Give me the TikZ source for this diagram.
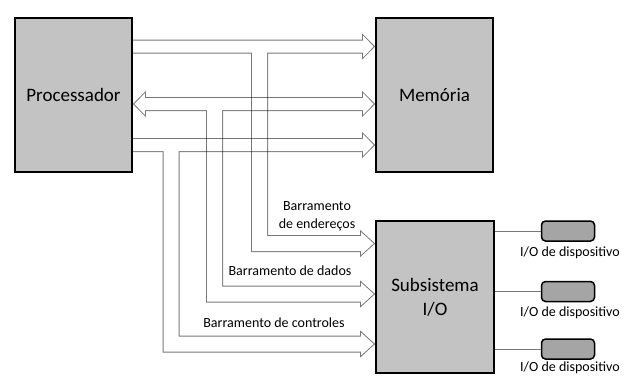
\documentclass[tikz,border=0pt]{standalone}
\usepackage{fontspec}
\setmainfont{Carlito}
\usetikzlibrary{arrows.meta}
\definecolor{cinzabloco}{RGB}{195,195,195}
\definecolor{cinzadisp}{RGB}{165,165,165}
\definecolor{cinzabarra}{RGB}{120,120,120}
\tikzstyle{bloco}=[rectangle,draw,line width=1.8pt,fill=cinzabloco,text=black,
        font=\fontsize{19}{24}\selectfont,align=center]
\tikzstyle{disp}=[rectangle,draw,rounded corners=4pt,line width=1.5pt,fill=cinzadisp,
        minimum width=53pt,minimum height=20pt]
\tikzstyle{rotulo}=[font=\fontsize{14}{18}\selectfont,align=center,inner sep=0pt]
\tikzstyle{ligacao}=[draw=cinzabarra,line width=0.8pt]
\tikzstyle{barra}=[draw=cinzabarra,line width=14pt]
\tikzstyle{barrab}=[draw=cinzabarra,line width=17pt]
\tikzstyle{fundo}=[draw=white,line width=12pt]
\tikzstyle{fundob}=[draw=white,line width=15pt]
\tikzset{
        pontaA/.tip={Triangle[fill=white,line width=0.8pt,length=13pt,width=26pt]},
        pontaB/.tip={Triangle[fill=white,line width=0.8pt,length=15pt,width=27pt]}
}

\begin{document}
\begin{tikzpicture}[x=1pt,y=-1pt]
\path[use as bounding box,fill=white] (0,0) rectangle (629,376);
\node[bloco,minimum width=117pt,minimum height=154pt] (proc) at (73.5,95) {Processador};
\node[bloco,minimum width=117pt,minimum height=154pt] (mem) at (434.5,95) {Memória};
\node[bloco,minimum width=118pt,minimum height=152pt] (io) at (435,297) {Subsistema\\I/O};
\node[disp] (d1) at (568,231) {};
\node[disp] (d2) at (568,291.5) {};
\node[disp] (d3) at (568,349) {};
\node[rotulo] (r1) at (570,253) {I/O de dispositivo};
\node[rotulo] (r2) at (570,313) {I/O de dispositivo};
\node[rotulo] (r3) at (570,368) {I/O de dispositivo};
\node[rotulo] (lend) at (317,216) {Barramento\\de endereços};
\node[rotulo] (ldad) at (290,271) {Barramento de dados};
\node[rotulo] (lctl) at (274,323) {Barramento de controles};
%Junctions
\coordinate (eJ) at (259.5,46.5);
\coordinate (eK) at (259.5,243.5);
\coordinate (dJ) at (214.5,104);
\coordinate (dK) at (214.5,294);
\coordinate (cJ) at (171,145);
\coordinate (cK) at (171,344);
%Drawing buses
\begin{scope}[blend mode=multiply]
\begin{scope}[transparency group]
\draw[barra,-{pontaA}] (proc.east |- eJ) -- (mem.west |- eJ);
\draw[barrab,-{pontaB}] (eJ) -- (eK) -- (io.west |- eK);
\draw[fundo,shorten >=11.5pt] (proc.east |- eJ) -- (mem.west |- eJ);
\draw[fundob,shorten >=13.5pt] (eJ) -- (eK) -- (io.west |- eK);
\end{scope}
\end{scope}
\begin{scope}[blend mode=multiply]
\begin{scope}[transparency group]
\draw[barra,{pontaA}-{pontaA}] (proc.east |- dJ) -- (mem.west |- dJ);
\draw[barrab,-{pontaB}] (dJ) -- (dK) -- (io.west |- dK);
\draw[fundo,shorten <=11.5pt,shorten >=11.5pt] (proc.east |- dJ) -- (mem.west |- dJ);
\draw[fundob,shorten >=13.5pt] (dJ) -- (dK) -- (io.west |- dK);
\end{scope}
\end{scope}
\begin{scope}[blend mode=multiply]
\begin{scope}[transparency group]
\draw[barra,-{pontaA}] (proc.east |- cJ) -- (mem.west |- cJ);
\draw[barrab,-{pontaB}] (cJ) -- (cK) -- (io.west |- cK);
\draw[fundo,shorten >=11.5pt] (proc.east |- cJ) -- (mem.west |- cJ);
\draw[fundob,shorten >=13.5pt] (cJ) -- (cK) -- (io.west |- cK);
\end{scope}
\end{scope}
%Devices
\draw[ligacao] (io.east |- d1) -- (d1);
\draw[ligacao] (io.east |- d2) -- (d2);
\draw[ligacao] (io.east |- d3) -- (d3);
\end{tikzpicture}
\end{document}
